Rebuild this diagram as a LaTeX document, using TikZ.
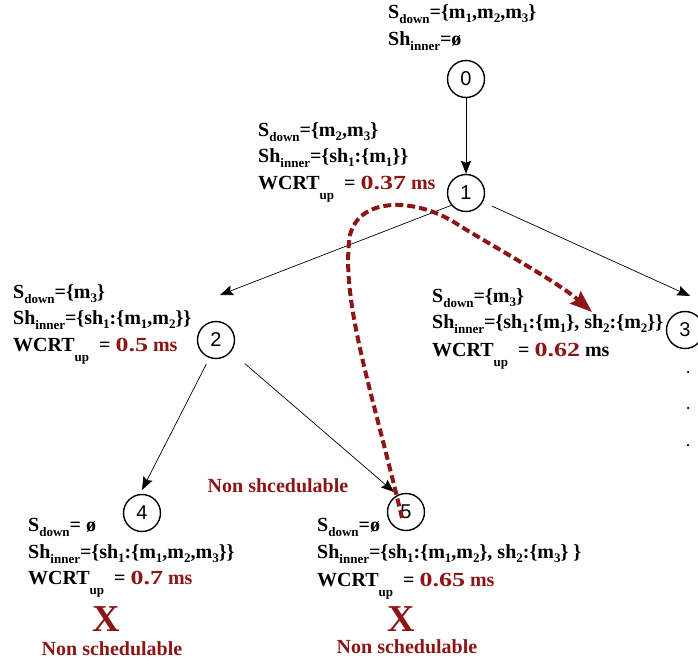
\documentclass[tikz,border=0pt]{standalone}
\usepackage{fontspec}
\setmainfont{Liberation Serif}
\newfontfamily\numfont{Liberation Sans}
\newfontfamily\valfont[FakeStretch=1.3]{Liberation Serif}
\usetikzlibrary{arrows.meta}
\definecolor{dred}{RGB}{140,22,22}
\newcommand\mysub[1]{\raisebox{-5.5pt}{\fontsize{13}{13}\selectfont #1}}
\newcommand\myidx[1]{\raisebox{-4pt}{\fontsize{13}{13}\selectfont #1}}
\newcommand\myup{\raisebox{-10pt}{\fontsize{13}{13}\selectfont up}}
\newcommand\redv[1]{\textcolor{dred}{{\valfont\bfseries #1}}}
\begin{document}
\begin{tikzpicture}[x=1pt,y=-1pt,
  state/.style={circle,draw,line width=1.4pt,minimum size=37pt,inner sep=0pt,font=\numfont\fontsize{20}{20}\selectfont},
  lbl/.style={anchor=base west,inner sep=0pt,font=\bfseries\fontsize{20}{20}\selectfont},
  arr/.style={-{Stealth[length=13pt,width=10pt,inset=2pt]},line width=0.7pt},
  pathfive/.style={dred,line width=4pt,dash pattern=on 8pt off 4pt,-{Stealth[length=22pt,width=16pt,inset=3pt]}},
  bad/.style={text=dred,font=\bfseries\fontsize{20}{20}\selectfont,inner sep=0pt,anchor=base},
  cross/.style={text=dred,font=\bfseries\fontsize{38}{38}\selectfont,inner sep=0pt},
  dotn/.style={circle,fill,inner sep=0pt,minimum size=2.5pt}]
\useasboundingbox (0,0) rectangle (698,665);
% states
\node[state] (n0) at (466,79) {0};
\node[state] (n1) at (466,193) {1};
\node[state] (n2) at (216,340) {2};
\node[state] (n3) at (685,330) {3};
\node[state] (n4) at (142,513) {4};
\node[state] (n5) at (406,512) {5};
% dots under 3
\node[dotn] (d1) at (688,372) {};
\node[dotn] (d2) at (688,408) {};
\node[dotn] (d3) at (688,445) {};
% arrow targets
\coordinate (t2) at (220,295);
\coordinate (t3) at (690,296);
\coordinate (t4) at (142,490);
\coordinate (t5) at (394,492);
% edges
\draw[arr] (n0) -- (n1);
\draw[arr] (n1.220) -- (t2);
\draw[arr,shorten <=10pt] (n1.332) -- (t3);
\draw[arr,shorten <=7pt] (n2.250) -- (t4);
\draw[arr,shorten <=18pt] (n2.322) -- (t5);
% red path
\coordinate (p5) at (402,518);
\coordinate (p3) at (592,312);
\draw[pathfive] (p5) .. controls (372,390) and (340,300) .. (350,235)
  .. controls (360,195) and (420,198) .. (460,226)
  .. controls (510,256) and (560,284) .. (p3);
% labels
\node[lbl] (l0a) at (388,18) {S\mysub{down}=\{m\myidx{1},m\myidx{2},m\myidx{3}\}};
\node[lbl] (l0b) at (388,45) {Sh\mysub{inner}=ø};
\node[lbl] (l1a) at (258,136) {S\mysub{down}=\{m\myidx{2},m\myidx{3}\}};
\node[lbl] (l1b) at (258,162) {Sh\mysub{inner}=\{sh\myidx{1}:\{m\myidx{1}\}\}};
\node[lbl] (l1c) at (258,189) {WCRT\myup\ \ =\ \redv{0.37} \textcolor{dred}{ms}};
\node[lbl] (l2a) at (13,298) {S\mysub{down}=\{m\myidx{3}\}};
\node[lbl] (l2b) at (13,324) {Sh\mysub{inner}=\{sh\myidx{1}:\{m\myidx{1},m\myidx{2}\}\}};
\node[lbl] (l2c) at (13,351) {WCRT\myup\ \ =\ \redv{0.5} \textcolor{dred}{ms}};
\node[lbl] (l3a) at (432,302) {S\mysub{down}=\{m\myidx{3}\}};
\node[lbl] (l3b) at (432,328) {Sh\mysub{inner}=\{sh\myidx{1}:\{m\myidx{1}\}, sh\myidx{2}:\{m\myidx{2}\}\}};
\node[lbl] (l3c) at (432,356) {WCRT\myup\ \ =\ \redv{0.62} ms};
\node[lbl] (l4a) at (28,531) {S\mysub{down}= ø};
\node[lbl] (l4b) at (28,558) {Sh\mysub{inner}=\{sh\myidx{1}:\{m\myidx{1},m\myidx{2},m\myidx{3}\}\}};
\node[lbl] (l4c) at (28,584) {WCRT\myup\ \ =\ \redv{0.7} \textcolor{dred}{ms}};
\node[lbl] (l5a) at (317,531) {S\mysub{down}=ø};
\node[lbl] (l5b) at (317,558) {Sh\mysub{inner}=\{sh\myidx{1}:\{m\myidx{1},m\myidx{2}\}, sh\myidx{2}:\{m\myidx{3}\} \}};
\node[lbl] (l5c) at (317,586) {WCRT\myup\ \ =\ \redv{0.65} \textcolor{dred}{ms}};
% non schedulable marks
\node[bad] (ns) at (278,492) {Non shcedulable};
\node[cross] (x4) at (106,619) {X};
\node[bad] (ns4) at (112,655) {Non schedulable};
\node[cross] (x5) at (401,619) {X};
\node[bad] (ns5) at (407,653) {Non schedulable};
\end{tikzpicture}
\end{document}
